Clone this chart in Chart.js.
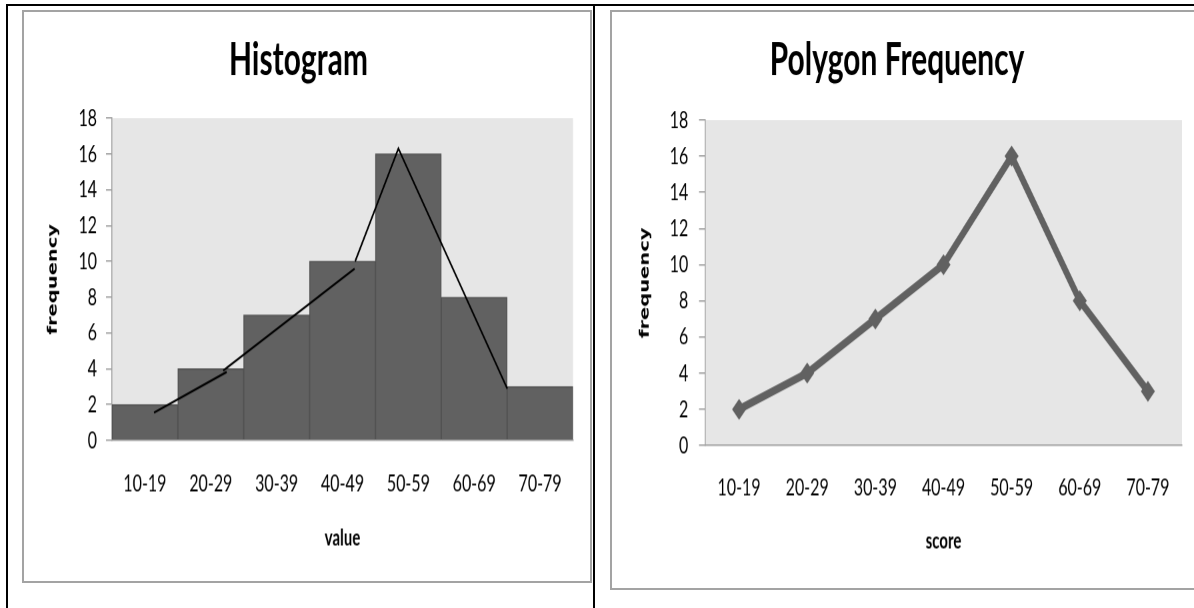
<!DOCTYPE html>
<html>
<head>
<meta charset="utf-8">
<script src="https://cdn.jsdelivr.net/npm/chart.js@4.4.1/dist/chart.umd.min.js"></script>
<style>
body { margin: 0; background: #fff; }
#page { position: relative; width: 1194px; height: 608px; overflow: hidden; }
.rule { position: absolute; background: #000; }
.frame { position: absolute; border: 2px solid #a3a3a3; box-sizing: border-box; }
/* the original picture is stretched vertically, so the charts are too */
.wrap { position: absolute; transform: scaleY(1.5); transform-origin: 0 0; }
</style>
</head>
<body>
<div id="page">
  <div class="rule" style="left:6px;top:4px;width:1188px;height:2px"></div>
  <div class="rule" style="left:6px;top:4px;width:2px;height:604px"></div>
  <div class="rule" style="left:593px;top:4px;width:2px;height:604px"></div>
  <div class="frame" style="left:22px;top:10px;width:570px;height:573px"></div>
  <div class="frame" style="left:610px;top:10px;width:600px;height:580px"></div>
  <div class="wrap" style="left:24px;top:12px"><canvas id="histogram-chart" width="566" height="379"></canvas></div>
  <div class="wrap" style="left:612px;top:12px"><canvas id="polygon-chart" width="582" height="385"></canvas></div>
</div>
<script>
const classes = ['10-19', '20-29', '30-39', '40-49', '50-59', '60-69', '70-79'];
const frequency = [2, 4, 7, 10, 16, 8, 3];
const yMax = 18;
const yStep = 2;

// freehand line over the histogram, x counted in bar widths from the left edge
const sketchX = [0.23, 1.49, 1.49, 1.43, 3.71, 3.71, 3.72, 4.47, 6.36];
const sketchY = [1.55, 3.82, null, 3.9, 9.59, null, 10.0, 16.3, 2.89];

const barGray = '#616161';
const axisGray = '#a0a0a0';
const tickFont = { family: 'Lato', size: 16 };

const plotBackground = {
    id: 'plotBackground',
    beforeDraw(chart) {
        const { ctx, chartArea } = chart;
        ctx.save();
        ctx.fillStyle = '#e6e6e6';
        ctx.fillRect(chartArea.left, chartArea.top, chartArea.right - chartArea.left, chartArea.bottom - chartArea.top);
        ctx.restore();
    }
};

function yAxis(width, titleTop, tickPad) {
    return {
        min: 0,
        max: yMax,
        afterFit: scale => { scale.width = width; },
        ticks: { stepSize: yStep, font: tickFont, color: '#000', padding: tickPad },
        grid: { drawOnChartArea: false, drawTicks: true, tickLength: 6, color: axisGray },
        border: { color: axisGray },
        title: {
            display: true,
            text: 'frequency',
            color: '#000',
            font: { family: 'DejaVu Sans', size: 13, weight: 'bold' },
            padding: { top: titleTop, bottom: 0 }
        }
    };
}

function xAxis(name, height, tickPad, titleBottom) {
    return {
        type: 'category',
        offset: true,
        afterFit: scale => { scale.height = height; },
        ticks: { font: tickFont, color: '#000', padding: tickPad, maxRotation: 0, autoSkip: false },
        grid: { drawOnChartArea: false, drawTicks: false, color: axisGray },
        border: { color: axisGray },
        title: {
            display: true,
            text: name,
            color: '#000',
            font: { family: 'Lato', size: 15, weight: 'bold' },
            padding: { top: 0, bottom: titleBottom }
        }
    };
}

function titleOptions(text, top, bottom) {
    return {
        display: true,
        text: text,
        color: '#000',
        font: { family: 'Lato', size: 30, weight: 'bold' },
        padding: { top: top, bottom: bottom }
    };
}

new Chart(document.querySelector('#histogram-chart').getContext('2d'), {
    type: 'bar',
    data: {
        labels: classes,
        datasets: [{
            label: 'frequency',
            data: frequency,
            backgroundColor: barGray,
            borderColor: '#525252',
            borderWidth: 1,
            grouped: false,
            categoryPercentage: 1,
            barPercentage: 1,
            order: 2
        }, {
            type: 'line',
            label: 'sketch',
            xAxisID: 'x2',
            data: sketchX.map((x, i) => ({ x: x, y: sketchY[i] })),
            borderColor: '#000',
            borderWidth: 1.5,
            pointRadius: 0,
            spanGaps: false,
            tension: 0,
            order: 1
        }]
    },
    options: {
        responsive: false,
        devicePixelRatio: 1.5,
        animation: false,
        layout: { padding: { left: 0, right: 17, top: 0, bottom: 0 } },
        plugins: {
            legend: { display: false },
            tooltip: { enabled: false },
            title: titleOptions('Histogram', 14, 20.7)
        },
        scales: {
            x: xAxis('value', 93.7, 19, 19.3),
            x2: { type: 'linear', min: 0, max: classes.length, display: false },
            y: yAxis(88, 21.2, 9)
        }
    },
    plugins: [plotBackground]
});

new Chart(document.querySelector('#polygon-chart').getContext('2d'), {
    type: 'line',
    data: {
        labels: classes,
        datasets: [{
            label: 'frequency',
            data: frequency,
            borderColor: barGray,
            borderWidth: 5.5,
            pointStyle: 'rectRot',
            pointRadius: 7,
            pointBackgroundColor: barGray,
            pointBorderWidth: 0,
            tension: 0
        }]
    },
    options: {
        responsive: false,
        devicePixelRatio: 1.5,
        animation: false,
        layout: { padding: { left: 0, right: 12, top: 0, bottom: 0 } },
        plugins: {
            legend: { display: false },
            tooltip: { enabled: false },
            title: titleOptions('Polygon Frequency', 14, 22)
        },
        scales: {
            x: xAxis('score', 96.3, 18.4, 23.3),
            y: yAxis(93, 25.2, 10.7)
        }
    },
    plugins: [plotBackground]
});
</script>
</body>
</html>
